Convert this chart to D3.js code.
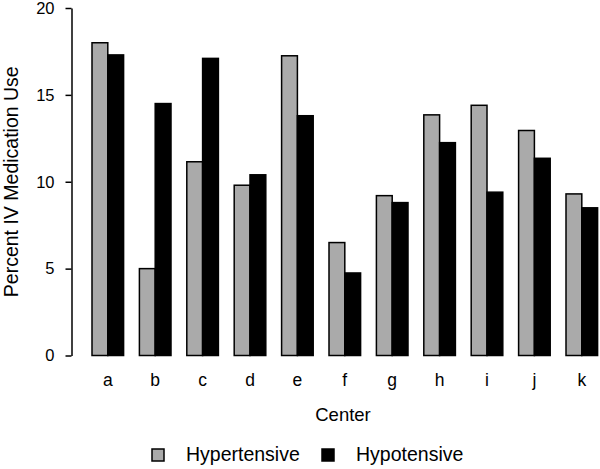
<!DOCTYPE html>
<html>
<head>
<meta charset="utf-8">
<script src="https://cdn.jsdelivr.net/npm/d3@7"></script>
<style>
  body { margin: 0; background: #fff; }
  svg { font-family: "Liberation Sans", Arial, sans-serif; }
</style>
</head>
<body>
<div id="chart"></div>
<script>
// data
const centers = ["a", "b", "c", "d", "e", "f", "g", "h", "i", "j", "k"];
const seriesNames = ["Hypertensive", "Hypotensive"];
const hypertensive = [18.0, 5.0, 11.15, 9.8, 17.25, 6.5, 9.2, 13.85, 14.4, 12.95, 9.3];
const hypotensive = [17.3, 14.5, 17.1, 10.4, 13.8, 4.75, 8.8, 12.25, 9.4, 11.35, 8.5];
const yTicks = [0, 5, 10, 15, 20];

const width = 600, height = 469;
const colors = ["#aaaaaa", "#000000"];

const svg = d3.select("#chart").append("svg")
  .attr("width", width)
  .attr("height", height);

const y = d3.scaleLinear().domain([0, 20]).range([355.5, 8]);

const x = d3.scaleBand()
  .domain(centers)
  .range([92, 597.6])
  .paddingInner(1 / 3)
  .paddingOuter(0);

const xInner = d3.scaleBand()
  .domain(seriesNames)
  .range([0, x.bandwidth()]);

const rows = centers.map((c, i) => ({
  center: c,
  values: [hypertensive[i], hypotensive[i]]
}));

// bars
const groups = svg.selectAll("g.group")
  .data(rows)
  .join("g")
  .attr("class", "group")
  .attr("transform", d => `translate(${x(d.center)},0)`);

groups.selectAll("rect")
  .data(d => d.values.map((v, j) => ({ key: seriesNames[j], value: v, j })))
  .join("rect")
  .attr("x", d => xInner(d.key))
  .attr("y", d => y(d.value))
  .attr("width", xInner.bandwidth())
  .attr("height", d => y(0) - y(d.value))
  .attr("fill", d => colors[d.j])
  .attr("stroke", "#000")
  .attr("stroke-width", 1.5);

// y axis
const yAxis = svg.append("g")
  .attr("transform", "translate(71.5,0)")
  .call(d3.axisLeft(y).tickValues(yTicks).tickSize(6).tickSizeOuter(0).tickPadding(11));
yAxis.selectAll("path, line").attr("stroke", "#000").attr("stroke-width", 1.5);
yAxis.selectAll("text").attr("font-size", 16.5).attr("fill", "#000")
  .attr("font-family", "'Liberation Sans', Arial, sans-serif");

// x axis labels only
const xAxis = svg.append("g")
  .attr("transform", `translate(0,${y(0)})`)
  .call(d3.axisBottom(x).tickSize(0).tickPadding(18.5));
xAxis.select(".domain").remove();
xAxis.selectAll("text").attr("font-size", 17.5).attr("fill", "#000")
  .attr("font-family", "'Liberation Sans', Arial, sans-serif");

// axis titles
svg.append("text")
  .attr("transform", `translate(18,${(y(0) + y(20)) / 2}) rotate(-90)`)
  .attr("text-anchor", "middle")
  .attr("font-size", 19.5)
  .text("Percent IV Medication Use");

svg.append("text")
  .attr("x", 343)
  .attr("y", 421)
  .attr("text-anchor", "middle")
  .attr("font-size", 18.5)
  .text("Center");

// legend
const legendX = [152, 322];
const legend = svg.selectAll("g.legend")
  .data(seriesNames)
  .join("g")
  .attr("class", "legend")
  .attr("transform", (d, i) => `translate(${legendX[i]},449)`);

legend.append("rect")
  .attr("width", 12)
  .attr("height", 12)
  .attr("fill", (d, i) => colors[i])
  .attr("stroke", "#000")
  .attr("stroke-width", 1.5);

legend.append("text")
  .attr("x", 34)
  .attr("y", 12)
  .attr("font-size", 19.5)
  .text(d => d);
</script>
</body>
</html>
